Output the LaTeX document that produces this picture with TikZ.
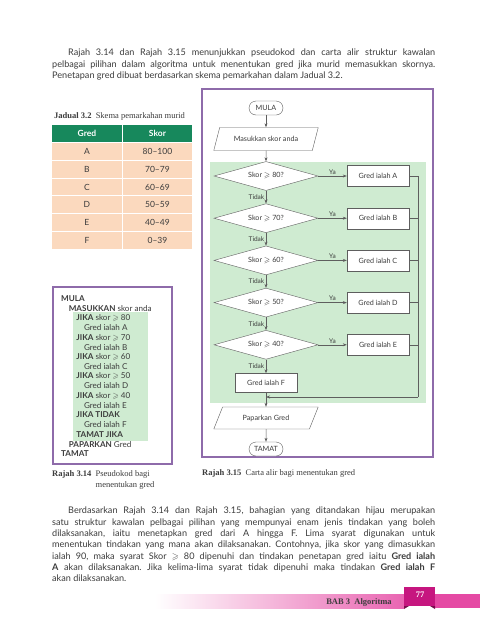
\documentclass[tikz,border=0pt]{standalone}
\usepackage{amssymb}
\usepackage{fontspec}
\setmainfont{Lato}
\newfontfamily\capfont{Liberation Serif}
\usetikzlibrary{shapes.geometric, matrix, arrows.meta, positioning}

\definecolor{framepurple}{HTML}{8E6BAA}
\definecolor{flowgreen}{HTML}{CFEBD1}
\definecolor{headgreen}{HTML}{17885C}
\definecolor{peach}{HTML}{FBD9BE}
\definecolor{linegrey}{HTML}{5E5E5E}
\definecolor{inkgrey}{HTML}{3C3C3C}
\definecolor{tabpink}{HTML}{C6167F}
\definecolor{bandpink}{HTML}{E54AA4}

\newcommand{\bodyfont}{\fontsize{9.1}{11.3}\selectfont}
\newcommand{\flowfont}{\fontsize{7.2}{8}\selectfont}

\begin{document}
\frenchspacing
\begin{tikzpicture}[x=1pt, y=-1pt,
      flowline/.style={draw=linegrey, line width=0.5pt},
      arrow/.style={flowline, -{Stealth[length=4pt,width=3pt]}},
      terminal/.style={draw=linegrey, fill=white, rounded corners=7pt,
        minimum width=34pt, minimum height=14pt, inner sep=1pt,
        font=\flowfont, text=inkgrey},
      io/.style={trapezium, trapezium left angle=60, trapezium right angle=120,
        trapezium stretches=true, draw=linegrey, fill=white,
        minimum width=105pt, minimum height=23pt, inner sep=1pt,
        font=\flowfont, text=inkgrey},
      decision/.style={diamond, aspect=3.5, draw=linegrey, fill=white,
        minimum width=104pt, minimum height=29pt, inner sep=0pt,
        font=\flowfont, text=inkgrey},
      process/.style={rectangle, draw=linegrey, fill=white,
        minimum width=62pt, minimum height=21pt, inner sep=1pt,
        font=\flowfont, text=inkgrey},
      lbl/.style={font=\fontsize{6.5}{7}\selectfont, text=inkgrey, inner sep=1.5pt},
      caption/.style={font=\capfont\fontsize{8.5}{11}\selectfont, text=inkgrey, inner sep=0pt},
      para/.style={text width=383pt, align=justify, inner sep=0pt,
        font=\bodyfont, text=inkgrey, anchor=north west}]
  \fill[white] (0,0) rectangle (480,638);
  \useasboundingbox (0,0) rectangle (480,638);

  % opening paragraph
  \node[para] (intro) at (52,49) {\hspace*{16pt}Rajah 3.14 dan Rajah 3.15 menunjukkan pseudokod dan carta alir struktur kawalan\linebreak
    pelbagai pilihan dalam algoritma untuk menentukan gred jika murid memasukkan skornya.\linebreak
    Penetapan gred dibuat berdasarkan skema pemarkahan dalam Jadual 3.2.};

  % table of grades
  \node[caption, anchor=west] (tabcap) at (54,116) {\textbf{Jadual 3.2}\ \ Skema pemarkahan murid};
  \matrix (T)[matrix of nodes, anchor=north west, inner sep=0pt,
      column sep=1pt, row sep=1pt,
      nodes={fill=peach, minimum width=69.5pt, minimum height=16.8pt, inner sep=0pt,
        font=\fontsize{8.5}{10}\selectfont, text=inkgrey},
      row 1/.style={nodes={fill=headgreen, text=white, font=\fontsize{8.5}{10}\selectfont\bfseries}}
      ] at (52,125) {
    Gred & Skor \\
    A & 80--100 \\
    B & 70--79 \\
    C & 60--69 \\
    D & 50--59 \\
    E & 40--49 \\
    F & 0--39 \\
  };

  % pseudocode
  \draw[framepurple, line width=1.2pt] (53,287) rectangle (172,464);
  \fill[flowgreen] (73,312) rectangle (148,441);
  \foreach \lvl/\txt [count=\i from 0] in {0/{\textbf{MULA}}, 1/{\textbf{MASUKKAN} skor anda},
      2/{\textbf{JIKA} skor $\geqslant$ 80}, 3/{Gred ialah A},
      2/{\textbf{JIKA} skor $\geqslant$ 70}, 3/{Gred ialah B},
      2/{\textbf{JIKA} skor $\geqslant$ 60}, 3/{Gred ialah C},
      2/{\textbf{JIKA} skor $\geqslant$ 50}, 3/{Gred ialah D},
      2/{\textbf{JIKA} skor $\geqslant$ 40}, 3/{Gred ialah E},
      2/{\textbf{JIKA TIDAK}}, 3/{Gred ialah F}, 2/{\textbf{TAMAT JIKA}},
      1/{\textbf{PAPARKAN} Gred}, 0/{\textbf{TAMAT}}}
    \node[anchor=west, inner sep=0pt, font=\fontsize{8.1}{9}\selectfont, text=inkgrey]
      (p\i) at ({61+7.6*\lvl},{299+9.67*\i}) {\txt};
  \node[caption, anchor=north west] (cap14) at (52,469) {\textbf{Rajah 3.14}\ \
    \begin{tabular}[t]{@{}l@{}}Pseudokod bagi\\menentukan gred\end{tabular}};

  % flowchart
  \draw[framepurple, line width=1.2pt] (202,89) rectangle (433,457);
  \fill[flowgreen] (210,162) rectangle (426,403);
  \node[terminal] (mula) at (266,108) {MULA};
  \node[io] (in) at (266,139) {Masukkan skor anda};
  \foreach \g/\s [count=\i] in {A/80, B/70, C/60, D/50, E/40} {
    \node[decision] (d\i) at (266,{176+42.2*(\i-1)}) {Skor $\geqslant$ \s?};
    \node[process] (g\g) at (378,{176+42.2*(\i-1)}) {Gred ialah \g};
    \draw[arrow] (d\i) -- node[lbl, above] {Ya} (g\g);
  }
  \node[process, minimum height=19pt] (gF) at (266,383) {Gred ialah F};
  \node[io, minimum height=22pt] (out) at (266,418) {Paparkan Gred};
  \node[terminal] (tamat) at (266,449) {TAMAT};
  \coordinate (join) at (418,397);
  \coordinate (merge) at (266,397);

  \draw[arrow] (mula) -- (in);
  \draw[arrow] (in) -- (d1);
  \foreach \i [evaluate=\i as \j using int(\i+1)] in {1,...,4}
    \draw[arrow] (d\i) -- node[lbl, left] {Tidak} (d\j);
  \draw[arrow] (d5) -- node[lbl, left] {Tidak} (gF);
  \draw[flowline] (gA.east) -| (join);
  \foreach \g in {B,C,D,E}
    \draw[flowline] (g\g.east) -- (g\g.east -| join);
  \draw[arrow] (join) -- (merge);
  \draw[arrow] (gF) -- (out);
  \draw[arrow] (out) -- (tamat);
  \node[caption, anchor=west] (cap15) at (202,473) {\textbf{Rajah 3.15}\ \ Carta alir bagi menentukan gred};

  % closing paragraph
  \node[para] (outro) at (52,507) {\hspace*{16pt}Berdasarkan Rajah 3.14 dan Rajah 3.15, bahagian yang ditandakan hijau merupakan\linebreak
    satu struktur kawalan pelbagai pilihan yang mempunyai enam jenis tindakan yang boleh\linebreak
    dilaksanakan, iaitu menetapkan gred dari A hingga F. Lima syarat digunakan untuk\linebreak
    menentukan tindakan yang mana akan dilaksanakan. Contohnya, jika skor yang dimasukkan\linebreak
    ialah 90, maka syarat Skor $\geqslant$ 80 dipenuhi dan tindakan penetapan gred iaitu \textbf{Gred ialah}\linebreak
    \textbf{A} akan dilaksanakan. Jika kelima-lima syarat tidak dipenuhi maka tindakan \textbf{Gred ialah F}\linebreak
    akan dilaksanakan.};

  % footer band
  \shade[left color=white, right color=bandpink!85] (155,594) rectangle (404,608);
  \fill[bandpink] (435,594) rectangle (480,608);
  \fill[tabpink] (404,587) rectangle (435,606);
  \fill[tabpink!60!black] (404,606) -- (409,606) -- (404,609) -- cycle;
  \fill[tabpink!60!black] (435,606) -- (430,606) -- (435,609) -- cycle;
  \node[font=\capfont\fontsize{8.5}{10}\selectfont\bfseries, text=inkgrey] (chap) at (359,602) {BAB 3\ \ Algoritma};
  \node[font=\capfont\fontsize{8.5}{10}\selectfont\bfseries, text=white] (pg) at (420,595) {77};
\end{tikzpicture}
\end{document}
